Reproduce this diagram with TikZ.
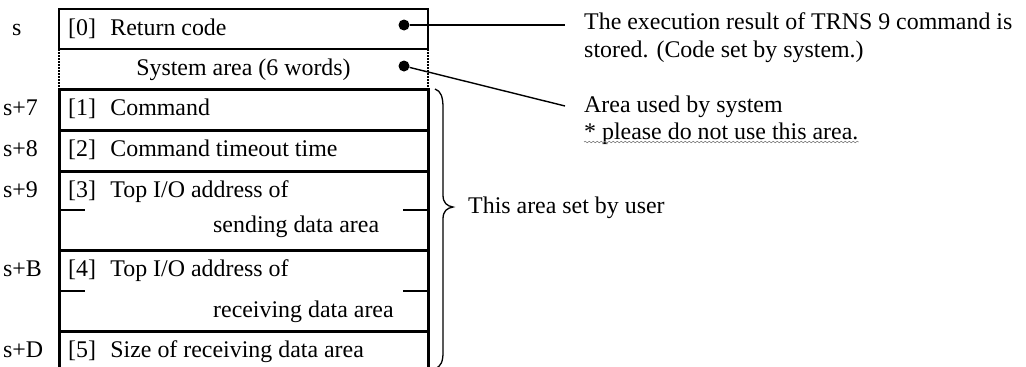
\documentclass[tikz,border=0pt]{standalone}
\usepackage{fontspec}
\setmainfont{Liberation Serif}
\usepackage{tikz}
\usetikzlibrary{decorations.pathmorphing}

\tikzset{
	txt/.style={anchor=base west,inner sep=0pt,font=\fontsize{23.9}{27}\selectfont},
	thinrow/.style={line width=1.4pt},
	thickrow/.style={line width=3pt},
	dotrow/.style={line width=1.4pt,dash pattern=on 1.5pt off 1.5pt},
	dot/.style={circle,fill=black,inner sep=0pt,minimum size=11pt},
	lead/.style={line width=1.4pt}
}

\begin{document}
\begin{tikzpicture}[x=1pt,y=-1pt,line join=miter]
		\useasboundingbox (0,0) rectangle (1026,367);
		
		% word boxes
		\draw[thinrow] (59,9) rectangle (428,49);
		\draw[dotrow] (59,49) -- (59,89) (428,49) -- (428,89);
		\draw[thickrow] (59,89) rectangle (428,130);
		\draw[thickrow] (59,130) rectangle (428,171);
		\draw[thickrow] (59,171) rectangle (428,250);
		\draw[thickrow] (59,250) rectangle (428,331);
		\draw[thickrow] (59,331) rectangle (428,380);
		\draw[thinrow] (59,210) -- (85,210) (403,210) -- (428,210);
		\draw[thinrow] (59,291) -- (85,291) (403,291) -- (428,291);
		
		% addresses
		\node[txt] (adr0) at (12,35) {s};
		\node[txt] (adr7) at (3,115) {s+7};
		\node[txt] (adr8) at (3,156) {s+8};
		\node[txt] (adr9) at (3,197) {s+9};
		\node[txt] (adrB) at (3,276) {s+B};
		\node[txt] (adrD) at (3,357) {s+D};
		
		% contents
		\node[txt] (w0) at (68,35) {[0]\hspace{0.6em}Return code};
		\node[txt,anchor=base] (sys) at (243.5,75) {System area (6 words)};
		\node[txt] (w1) at (68,115) {[1]\hspace{0.6em}Command};
		\node[txt] (w2) at (68,156) {[2]\hspace{0.6em}Command timeout time};
		\node[txt] (w3) at (68,197) {[3]\hspace{0.6em}Top I/O address of};
		\node[txt] (w3b) at (213,232) {sending data area};
		\node[txt] (w4) at (68,276) {[4]\hspace{0.6em}Top I/O address of};
		\node[txt] (w4b) at (213,317) {receiving data area};
		\node[txt] (w5) at (68,357) {[5]\hspace{0.6em}Size of receiving data area};
		
		% notes
		\node[dot] (d0) at (404,25) {};
		\node[dot] (d1) at (404,66) {};
		\coordinate (e0) at (565,25);
		\coordinate (e1) at (565,106);
		\draw[lead] (d0) -- (e0);
		\draw[lead] (d1) -- (e1);
		
		\node[txt] (n0) at (584,29) {The execution result of TRNS 9 command is};
		\node[txt] (n0b) at (584,57) {stored. (Code set by system.)};
		\node[txt] (n1) at (584,112) {Area used by system};
		\node[txt] (n1b) at (584,139) {* please do not use this area.};
		\draw[gray,line width=0.6pt,decorate,decoration={snake,amplitude=0.8pt,segment length=4pt}]
			([yshift=-3pt]n1b.base west) -- ([yshift=-3pt]n1b.base east);
		
		% user brace
		\draw[line width=1.3pt] (435,89) .. controls (441,91) and (443,97) .. (443,108)
			-- (443,195) .. controls (443,203) and (447,206) .. (453,207)
			.. controls (447,208) and (443,211) .. (443,219)
			-- (443,352) .. controls (443,362) and (441,366) .. (435,369);
		\node[txt] (usr) at (468,213) {This area set by user};
	\end{tikzpicture}
\end{document}
